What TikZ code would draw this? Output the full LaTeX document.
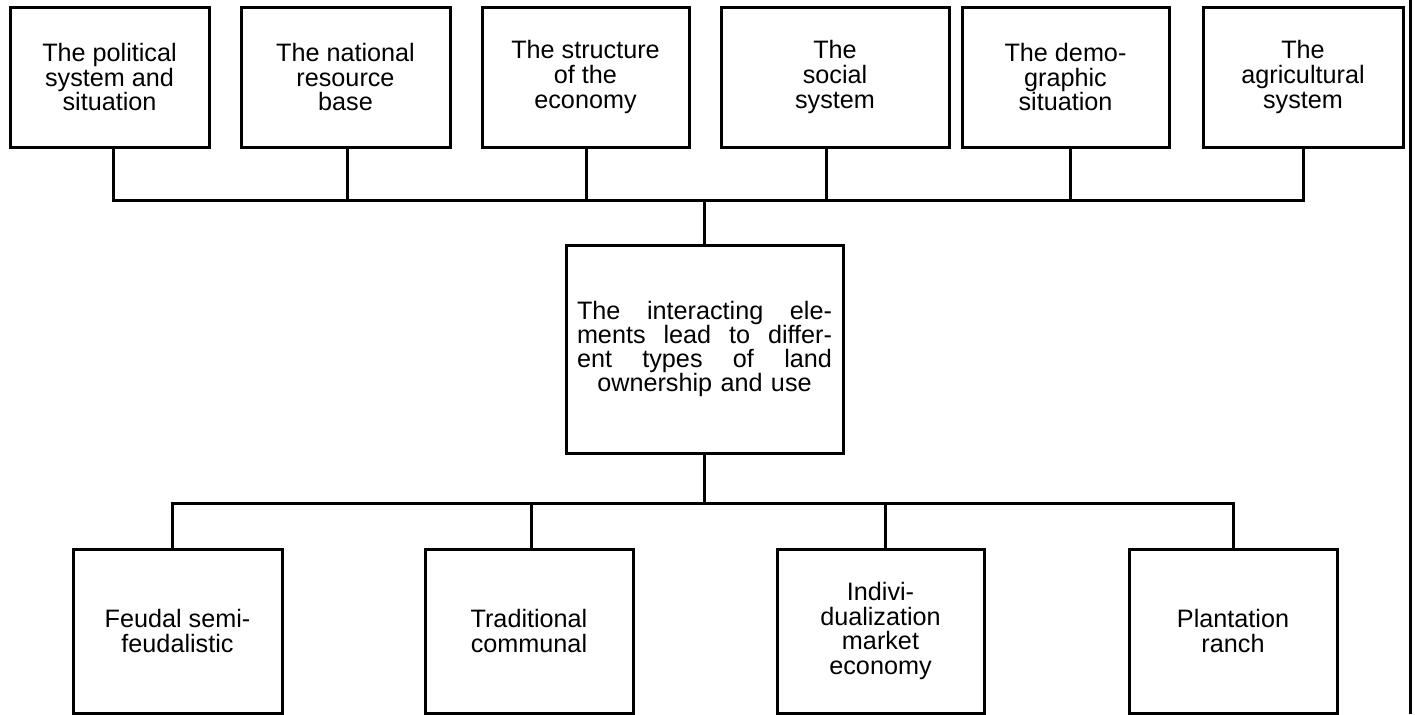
\documentclass[tikz,border=0pt]{standalone}
\usepackage{fontspec}
\setmainfont{Liberation Sans}
\usepackage{tikz}
\tikzset{
  box/.style={draw=black, line width=1.5pt, align=center, inner sep=2pt,
    font=\fontsize{12.6}{12.4}\selectfont},
  factor/.style={box, minimum height=70pt},
  outcome/.style={box, minimum height=82pt},
  link/.style={draw=black, line width=1.5pt},
}

\begin{document}
\begin{tikzpicture}[x=0.5pt,y=-0.5pt]
  \useasboundingbox (0,0) rectangle (1415,714);

  % the six factors along the top
  \node[factor, minimum width=99.5pt]  (pol) at (109.5,77) {The political\\system and\\situation};
  \node[factor, minimum width=104.5pt] (res) at (345.5,77) {The national\\resource\\base};
  \node[factor, minimum width=103.5pt] (eco) at (585.5,77) {The structure\\of the\\economy};
  \node[factor, minimum width=114pt]   (soc) at (835,77)   {The\\social\\system};
  \node[factor, minimum width=103.5pt] (dem) at (1065.5,77) {The demo-\\graphic\\situation};
  \node[factor, minimum width=100pt]   (agr) at (1303,77)  {The\\agricultural\\system};

  % central box
  \node[box, minimum width=138.5pt, minimum height=104pt, text width=127.5pt,
    font=\fontsize{12.6}{11.9}\selectfont] (hub) at (704.5,349)
    {The \hfill interacting \hfill ele-\\
     ments \hfill lead \hfill to \hfill differ-\\
     ent \hfill types \hfill of \hfill land\\
     ownership and use};

  % the four types of land ownership
  \node[outcome, minimum width=104.5pt] (feu) at (177.5,631) {Feudal semi-\\feudalistic};
  \node[outcome, minimum width=104pt]   (tra) at (529,631)   {Traditional\\communal};
  \node[outcome, minimum width=103.5pt] (ind) at (880.5,631) {Indivi-\\dualization\\market\\economy};
  \node[outcome, minimum width=104pt]   (pla) at (1233,631)  {Plantation\\ranch};

  % upper bar
  \coordinate (topbar) at (704.5,200);
  \draw[link] (pol.south -| 113,0) -- (113,0 |- topbar) -- (1303,0 |- topbar) -- (agr.south -| 1303,0);
  \foreach \n/\x in {res/347, eco/586, soc/826, dem/1070}
    \draw[link] (\n.south -| \x,0) -- (\x,0 |- topbar);
  \draw[link] (topbar) -- (hub.north);

  % lower bar
  \coordinate (lowbar) at (704.5,503);
  \draw[link] (hub.south) -- (lowbar);
  \draw[link] (feu.north -| 172,0) -- (172,0 |- lowbar) -- (1233,0 |- lowbar) -- (pla.north -| 1233,0);
  \foreach \n/\x in {tra/531, ind/885}
    \draw[link] (\n.north -| \x,0) -- (\x,0 |- lowbar);

  % page edge on the right
  \draw[link] (1410,0) -- (1410,714);
\end{tikzpicture}
\end{document}
